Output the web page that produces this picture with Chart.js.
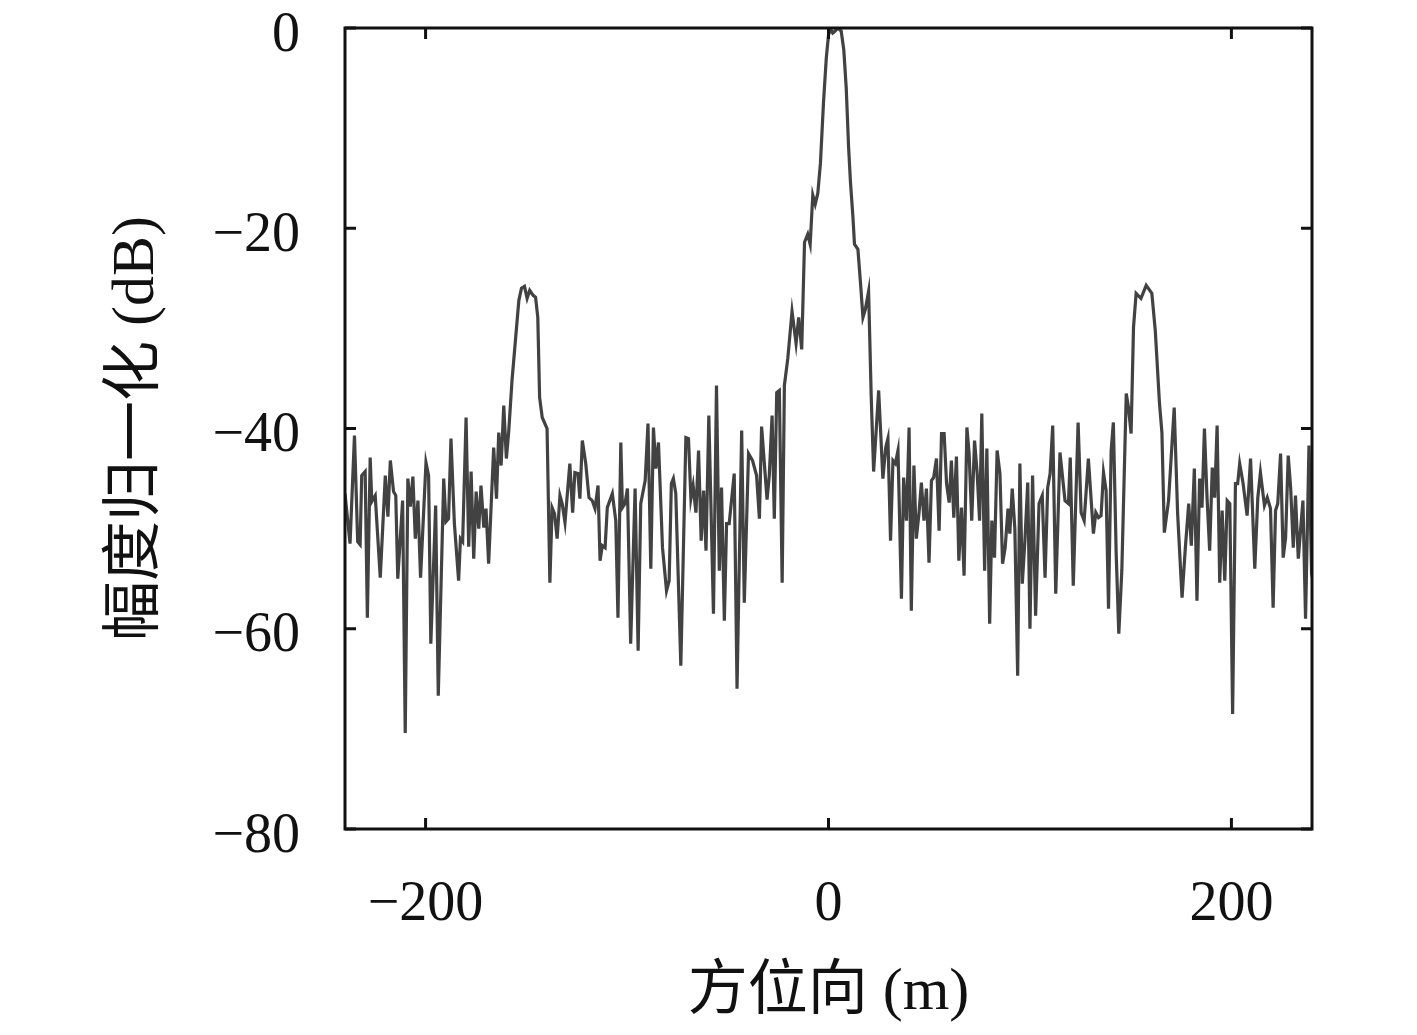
<!DOCTYPE html>
<html>
<head>
<meta charset="utf-8">
<script src="https://cdn.jsdelivr.net/npm/chart.js@4.4.0/dist/chart.umd.min.js"></script>
<style>
  html, body { margin: 0; padding: 0; background: #fff; }
  #wrap { width: 1417px; height: 1035px; }
</style>
</head>
<body>
<div id="wrap"><canvas id="chart" width="1417" height="1035"></canvas></div>
<script>
// Datos (posición en m, amplitud en dB)
const azimuth = [
  // lado izquierdo
  -240, -237.5, -235.3, -233.7, -232.5, -231.7, -230, -228.9, -227.5, -226.7,
  -225, -222.5, -220, -218.7, -217.5, -215.9, -214.8, -213.8, -211.4, -210.1,
  -208.8, -207.6, -206.3, -205.1, -203.8, -202.5, -199.8, -198.5, -197.4, -195,
  -193.7, -191, -189.9, -188.6, -187.4, -185.7, -183.6, -182.7, -181.6, -179.9,
  -178.6, -177.4, -176.1, -174.9,
  // lóbulo izquierdo
  -173.6, -172.5, -171.1, -170, -168.7, -166.2, -164.8, -163.7, -162.5, -161.2,
  -159.9, -158.7, -157.1, -155.4, -153.7, -152.4, -150.9, -149.6, -148.3, -146.6,
  -145.4, -144.3, -143.4, -142.1, -139.7, -138.3, -137.2, -136, -134.7, -133.3,
  -132.2, -130.8, -128.4, -127, -125.9, -124.4, -123.4, -122.2, -120.5, -118.9,
  -117.3, -115.9, -114.4, -113.4, -112.3, -110.9, -109.8, -107.3,
  // ruido central izquierdo
  -105.6, -104.5, -103.1, -102.3, -101, -99.8, -98.2, -96, -94.5, -93.2,
  -91, -89.6, -88.2, -86.9, -85.7, -84.4, -82.4, -80.4, -79.1, -78,
  -77, -75.8, -73.3, -70.8, -69.5, -68.3, -67.2, -65.8, -64.5, -63.2,
  -62, -60.8, -59.4, -57.1, -55.6, -54.2, -53.1, -51.7, -50.6, -49.3,
  -46.8, -45.4, -43.1, -41.8, -39.7,
  // lóbulo principal
  -37.7, -35.7, -34.3, -33.2, -31.8, -30.5, -29.4, -28, -26.9, -25.7,
  -24.4, -23, -21.9, -20.2, -18.1, -16.1, -14.8, -13.3, -11.9, -10.3,
  -9.1, -7.8, -6.6, -5.3, -4, -2.5, -1.1, 0, 1, 2.1,
  3.3, 4.6, 6.3, 7.6, 8.8, 10, 10.9, 12.1, 12.9, 14.6,
  15.9, 17.1, 18.3, 19.9, 21.2, 22.4, 24.9, 27,
  // ruido central derecho
  28.4, 29.5, 30.8, 32, 33.2, 34.5, 36.2, 37.3, 38.7, 40,
  41.1, 42.4, 43.6, 44.9, 46.1, 47.4, 48.6, 49.9, 51.1, 52.2,
  53.6, 54.9, 56.1, 57.4, 58.6, 59.9, 61, 62.2, 63.5, 64.7,
  66, 67.3, 68.7, 69.8, 71.1, 72.5, 73.8, 75, 76.1, 77.5,
  78.6, 80, 81.1, 82.4, 83.7, 85.1, 86.4, 87.7, 89.1, 90,
  91.2, 92.5,
  93.9, 95, 96.2, 97.5, 98.9, 100, 101.3, 102.8, 104.5, 106.1,
  107.5, 108.8, 110, 111.3, 112.8, 114.9, 117.4, 119.1, 120, 121.5,
  123.9, 125.4, 126.9, 129, 131.5, 132.7, 134, 135.3,
  // lóbulo derecho y lado derecho
  136.5, 137.8, 139, 140.3, 141.4, 142.8, 144.1, 145.6, 147.8, 148.9,
  150.2, 151.4, 152.7, 155.1, 157.7, 160.5, 162.2, 164.3, 165.5, 166.7,
  168.8, 171.6, 173.3, 175.5, 177.1, 178.8, 180.1, 181.6, 182.9, 184.2,
  185.4, 186.6, 187.9, 189.2, 190.5, 191.7, 192.9, 194.2, 195.4, 196.7,
  197.9, 199.2, 200.6, 202, 203.1, 204.1, 205.8, 207.8, 209.5, 211.6,
  213.1, 214.4, 216.4, 217.8, 219.4, 220.7, 221.9, 223, 224.4, 225.7,
  226.9, 228.2, 229.4, 230.7, 231.8, 233.2, 234.3, 235.5, 236.8, 238.5,
  239.7, 241
];

const amplitude = [
  // lado izquierdo
  -46.5, -51.5, -40.7, -51.3, -51.6, -44.7, -44.3, -58.9, -42.9, -47.3,
  -46.7, -54.9, -44.7, -48.8, -43.2, -46.3, -46.7, -55, -47.2, -70.4,
  -45, -47.8, -44.8, -51, -47.2, -54.9, -43.4, -44.7, -61.5, -47.7,
  -66.7, -45, -49.3, -49, -41, -49.5, -55.2, -51, -51.3, -38.9,
  -51.8, -44.3, -53, -46.3,
  // lóbulo izquierdo
  -50, -45.7, -49.9, -48, -53.5, -41.9, -47, -40.4, -43.7, -37.7,
  -43, -40.2, -35.2, -31.2, -27.2, -26, -25.8, -27, -26.2, -26.7,
  -26.9, -28.9, -36.9, -38.9, -40, -55.4, -47.9, -48.5, -51, -46.7,
  -47.5, -49.4, -43.5, -48.4, -44.4, -44.5, -47, -41.2, -43.5, -46.9,
  -47.2, -48, -45.7, -53.2, -51.7, -51.9, -47.9, -46.5,
  // ruido central izquierdo
  -49.2, -58.9, -41.4, -47.9, -47.5, -46, -61.5, -46, -62.2, -47.5,
  -45.2, -39.5, -54, -39.9, -44, -41.4, -51.9, -56.2, -55.2, -45.5,
  -45, -46.5, -63.7, -40.9, -41, -47, -45.7, -48.4, -42.2, -51.2,
  -46.2, -52.2, -38.7, -58.5, -35.7, -54.2, -45.9, -59.2, -49.5, -49.5,
  -44.5, -66, -40.2, -57.4, -42.5,
  // lóbulo principal
  -43.2, -44.7, -49, -39.8, -43.6, -47.1, -44.7, -38.7, -49, -36.4,
  -36.2, -55.4, -35.7, -33, -28.3, -31.5, -28.9, -32.1, -21.4, -20.6,
  -21.6, -16.7, -17.6, -16.5, -13.5, -7.5, -3, -0.7, -0.1, -0.5,
  -0.3, 0, -0.3, -2.2, -6, -12, -15.4, -18.8, -21.6, -22.1,
  -25.5, -28.9, -28.1, -26.3, -36.8, -44.3, -36.2, -45,
  // ruido central derecho
  -41.9, -41, -51.2, -43.2, -43.5, -42.2, -57, -44.9, -49.2, -39.9,
  -58.2, -43.7, -51, -48.5, -45.4, -49.2, -46, -53.4, -45.2, -44.9,
  -43, -50.2, -40.5, -40.5, -45.5, -47.4, -43.2, -48.9, -42.8, -53.2,
  -47.9, -54.7, -39.9, -42.5, -49.2, -41.2, -44.5, -49.2, -38.5, -54.2,
  -42, -59.5, -49.2, -52.9, -42.2, -44.5, -53.5, -51.9, -48, -50.5,
  -46, -50,
  -64.7, -43.5, -55.5, -51.2, -45.4, -60, -44.7, -58.7, -47.5, -46.7,
  -54.9, -45.9, -44.5, -39.7, -56.5, -42.4, -47.2, -47.5, -42.9, -55.7,
  -39.4, -48.4, -49.2, -43, -50.5, -48.4, -48.9, -48.7,
  // lóbulo derecho y lado derecho
  -44.4, -46.2, -58, -42.2, -39.4, -52.5, -60.5, -54.2, -36.5, -37.9,
  -40.5, -29.9, -26.5, -27, -25.7, -26.5, -30.2, -37.5, -40.4, -50.4,
  -47.2, -37.9, -48.5, -56.9, -52, -47.5, -51.7, -44, -57.2, -45,
  -47.9, -40, -46.9, -52.2, -43.9, -46.9, -39.7, -55.4, -48.2, -55.2,
  -47.2, -47.5, -68.5, -45.5, -45.5, -43.5, -45.5, -48.7, -43, -54,
  -46.9, -44.4, -47.7, -46.9, -48, -57.9, -48.2, -47.5, -42.5, -52.9,
  -50.9, -42.7, -45.9, -51.9, -46.7, -53, -50.2, -47.2, -59, -41.7,
  -53.5, -52.2
];

const xTicks = [-200, 0, 200];
const yTicks = [0, -20, -40, -60, -80];
const xTitle = '方位向 (m)';
const yTitle = '幅度归一化 (dB)';

const serif = '"Liberation Serif", "Noto Sans CJK SC", serif';

// Formatea con signo menos tipográfico
function fmt(v) {
  return v < 0 ? '\u2212' + Math.abs(v) : String(v);
}

// Marco negro con marcas hacia adentro en los cuatro lados
const framePlugin = {
  id: 'frame',
  afterDatasetsDraw(chart) {
    const { ctx, chartArea: a, scales: { x, y } } = chart;
    const len = 11;
    ctx.save();
    ctx.strokeStyle = '#111';
    ctx.lineWidth = 3;
    ctx.beginPath();
    xTicks.forEach(v => {
      const px = x.getPixelForValue(v);
      ctx.moveTo(px, a.bottom); ctx.lineTo(px, a.bottom - len);
      ctx.moveTo(px, a.top); ctx.lineTo(px, a.top + len);
    });
    yTicks.forEach(v => {
      const py = y.getPixelForValue(v);
      ctx.moveTo(a.left, py); ctx.lineTo(a.left + len, py);
      ctx.moveTo(a.right, py); ctx.lineTo(a.right - len, py);
    });
    ctx.stroke();
    ctx.strokeRect(a.left, a.top, a.right - a.left, a.bottom - a.top);
    ctx.restore();
  }
};

const points = azimuth.map((x, i) => ({ x, y: amplitude[i] }));

new Chart(document.getElementById('chart'), {
  type: 'line',
  data: {
    datasets: [{
      data: points,
      borderColor: '#424242',
      borderWidth: 3.2,
      pointRadius: 0,
      tension: 0,
      fill: false
    }]
  },
  options: {
    responsive: false,
    animation: false,
    devicePixelRatio: 1,
    layout: { padding: { left: 101, right: 105, top: 28, bottom: 6 } },
    plugins: {
      legend: { display: false },
      tooltip: { enabled: false }
    },
    scales: {
      x: {
        type: 'linear',
        min: -240,
        max: 240,
        afterBuildTicks: s => { s.ticks = xTicks.map(v => ({ value: v })); },
        afterFit: s => { s.height = 200; s.paddingLeft = 0; s.paddingRight = 0; },
        grid: { display: false, drawTicks: false },
        border: { display: false },
        ticks: {
          padding: 48,
          autoSkip: false,
          maxRotation: 0,
          color: '#111',
          font: { family: serif, size: 56, lineHeight: 1 },
          callback: v => fmt(v)
        },
        title: {
          display: true,
          text: xTitle,
          color: '#111',
          padding: 0,
          font: { family: serif, size: 60 }
        }
      },
      y: {
        min: -80,
        max: 0,
        afterBuildTicks: s => { s.ticks = yTicks.map(v => ({ value: v })); },
        afterFit: s => { s.width = 244; s.paddingTop = 0; s.paddingBottom = 0; },
        grid: { display: false, drawTicks: false },
        border: { display: false },
        ticks: {
          padding: 45,
          labelOffset: 8,
          color: '#111',
          font: { family: serif, size: 56, lineHeight: 1 },
          callback: v => fmt(v)
        },
        title: {
          display: true,
          text: yTitle,
          color: '#111',
          padding: 0,
          font: { family: serif, size: 60 }
        }
      }
    }
  },
  plugins: [framePlugin]
});
</script>
</body>
</html>
